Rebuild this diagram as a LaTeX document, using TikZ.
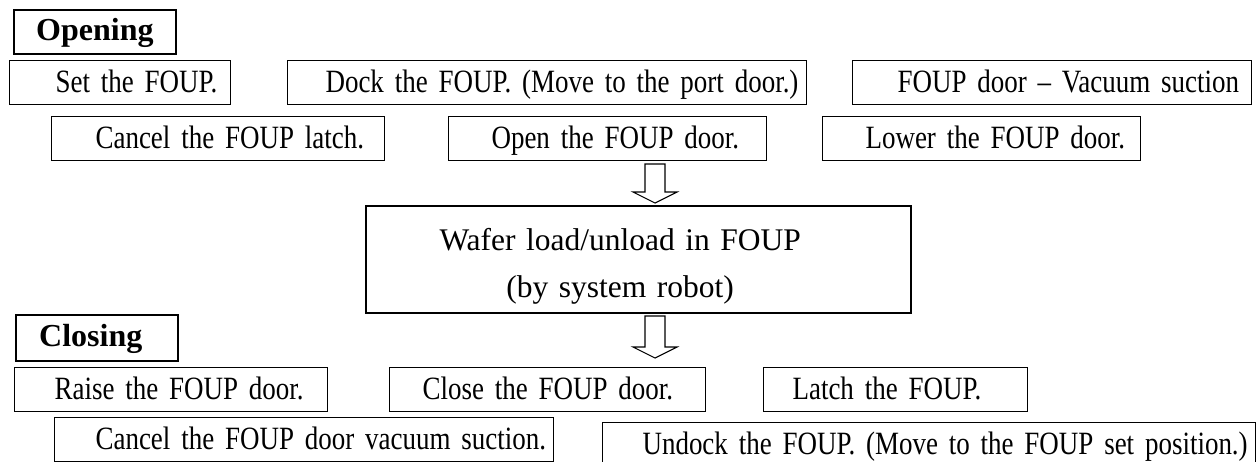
\documentclass[tikz,border=0pt]{standalone}
\usepackage{fontspec}
\setmainfont{Liberation Serif}
\newfontfamily\condfont{Liberation Serif}[FakeStretch=0.83]
\newcommand\padtext[2]{\hspace*{#1}\mbox{#2}}
\begin{document}
\begin{tikzpicture}[x=1pt,y=-1pt,
  stepbox/.style={draw, line width=1.1pt, anchor=north west, inner sep=0pt, align=left,
    text height=32pt, text depth=12pt, font=\condfont\fontsize{32.5}{36}\selectfont},
  headbox/.style={draw, line width=2.4pt, anchor=north west, inner sep=0pt, align=left,
    text height=30pt, text depth=14pt, font=\bfseries\fontsize{32}{36}\selectfont},
  waferbox/.style={draw, line width=2.4pt, anchor=north west, inner sep=0pt, align=center,
    text height=44pt, text depth=63pt, font=\fontsize{31.5}{47}\selectfont},
  blockarrow/.style={draw, line width=1.1pt, fill=white, line join=miter}]
\useasboundingbox (0,0) rectangle (1257,461);
\clip (0,0) rectangle (1257,461);
% Opening
\node[headbox, text width=162pt] (opening) at (13,9) {\padtext{22pt}{Opening}};
\node[stepbox, text width=221pt] (set) at (9,60) {\padtext{46pt}{Set the FOUP.}};
\node[stepbox, text width=519pt] (dock) at (287,60) {\padtext{38pt}{Dock the FOUP. (Move to the port door.)}};
\node[stepbox, text width=399pt] (vac) at (852,60) {\padtext{45pt}{FOUP door – Vacuum suction}};
\node[stepbox, text width=333pt] (latch) at (51,116) {\padtext{44pt}{Cancel the FOUP latch.}};
\node[stepbox, text width=318pt] (open) at (448,116) {\padtext{43pt}{Open the FOUP door.}};
\node[stepbox, text width=318pt] (lower) at (822,116) {\padtext{43pt}{Lower the FOUP door.}};
% arrow 1
\draw[blockarrow] (645,164) -- (665,164) -- (665,192) -- (677,192) -- (655,203) -- (633,192) -- (645,192) -- cycle;
% wafer
\node[waferbox, text width=545pt] (wafer) at (365,205)
  {\hspace*{-37pt}Wafer load/unload in FOUP\\\hspace*{-37pt}(by system robot)};
% arrow 2
\draw[blockarrow] (645,316) -- (665,316) -- (665,347) -- (677,347) -- (655,358) -- (633,347) -- (645,347) -- cycle;
% Closing
\node[headbox, text width=162pt, text height=31pt, text depth=15pt] (closing) at (15,314) {\padtext{23pt}{Closing}};
\node[stepbox, text width=313pt] (raise) at (14,367) {\padtext{40pt}{Raise the FOUP door.}};
\node[stepbox, text width=316pt] (close) at (389,367) {\padtext{33pt}{Close the FOUP door.}};
\node[stepbox, text width=264pt] (latchc) at (763,367) {\padtext{29pt}{Latch the FOUP.}};
\node[stepbox, text width=499pt] (cvac) at (54,417) {\padtext{41pt}{Cancel the FOUP door vacuum suction.}};
\node[stepbox, text width=653pt] (undock) at (602,422) {\padtext{40pt}{Undock the FOUP. (Move to the FOUP set position.)}};
\end{tikzpicture}
\end{document}
